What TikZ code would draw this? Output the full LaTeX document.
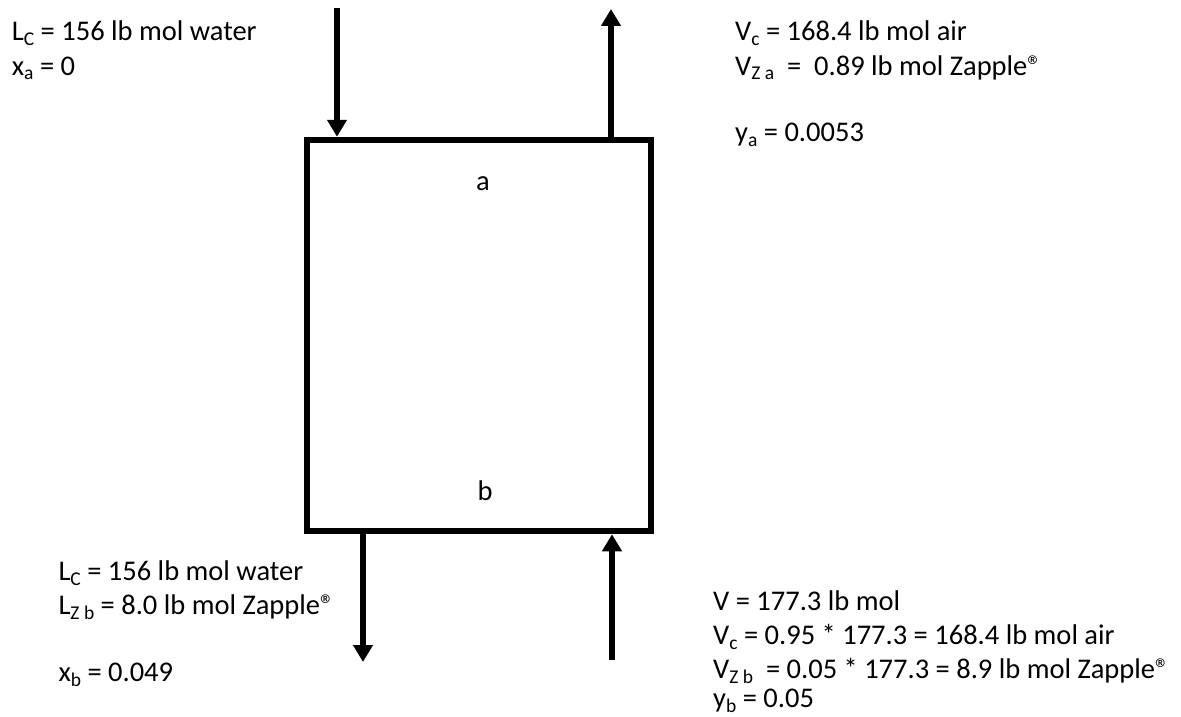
\documentclass[tikz,border=0pt]{standalone}
\usepackage{fontspec}
\setmainfont{Carlito}
\usetikzlibrary{arrows.meta}
\newcommand\sbs[1]{\raisebox{-5pt}{\fontsize{19.5}{20}\selectfont #1}}
\newcommand\regm{®}
\begin{document}
\begin{tikzpicture}[x=1pt,y=-1pt,
  lbl/.style={anchor=base west, inner sep=0pt, font=\fontsize{28.5}{34}\selectfont},
  endlbl/.style={anchor=base, inner sep=0pt, font=\fontsize{28.5}{34}\selectfont},
  stream/.style={line width=6.5pt, -{Triangle[length=17pt,width=19pt]}},
  column/.style={draw, line width=6.5pt, minimum width=344pt, minimum height=391pt, inner sep=0pt}]
\useasboundingbox (0,0) rectangle (1181,717);
\node[column] (col) at (479,335.5) {};
\node[endlbl] (topend) at (483,190) {a};
\node[endlbl] (botend) at (485,500) {b};
% streams
\coordinate (inA) at (337,8);
\draw[stream] (inA) -- (inA |- col.north);
\coordinate (outA) at (611,9);
\draw[stream] (outA |- col.north) -- (outA);
\coordinate (outB) at (363,662);
\draw[stream] (outB |- col.south) -- (outB);
\coordinate (inB) at (612,660);
\draw[stream] (inB) -- (inB |- col.south);
% top left
\node[lbl] (tl1) at (11.7,40.7) {L\sbs{C} = 156 lb mol water};
\node[lbl] (tl2) at (11.7,75) {x\sbs{a} = 0};
% top right
\node[lbl] (tr1) at (735,40.7) {V\sbs{c} = 168.4 lb mol air};
\node[lbl] (tr2) at (735,75) {V\sbs{Z a}~ = ~0.89 lb mol Zapple\regm};
\node[lbl] (tr3) at (735,141.7) {y\sbs{a} = 0.0053};
% bottom left
\node[lbl] (bl1) at (58.3,580.7) {L\sbs{C} = 156 lb mol water};
\node[lbl] (bl2) at (58.3,614) {L\sbs{Z b} = 8.0 lb mol Zapple\regm};
\node[lbl] (bl3) at (58.3,681.7) {x\sbs{b} = 0.049};
% bottom right
\node[lbl] (br1) at (713,610.7) {V = 177.3 lb mol};
\node[lbl] (br2) at (713,644) {V\sbs{c} = 0.95 * 177.3 = 168.4 lb mol air};
\node[lbl] (br3) at (713,678) {V\sbs{Z b}~ = 0.05 * 177.3 = 8.9 lb mol Zapple\regm};
\node[lbl] (br4) at (713,707) {y\sbs{b} = 0.05};
\end{tikzpicture}
\end{document}
